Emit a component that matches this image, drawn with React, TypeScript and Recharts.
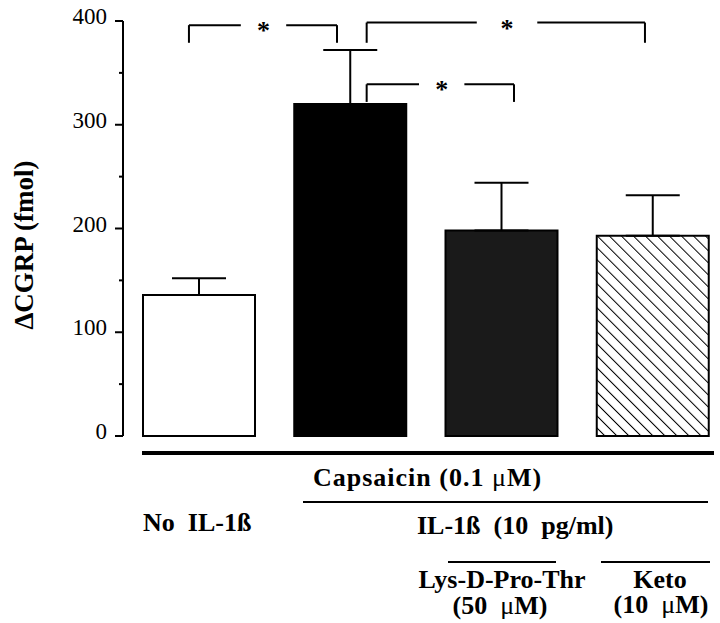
import { BarChart, Bar, Cell, XAxis, YAxis, ErrorBar, ReferenceLine, ReferenceDot } from 'recharts'

// treatment groups, left to right
const groups = ['No IL-1ß', 'IL-1ß', 'IL-1ß + Lys-D-Pro-Thr', 'IL-1ß + Keto']
const cgrp = [136, 320, 198, 193]
const sem = [16, 52, 46, 39]
const fills = ['#ffffff', '#000000', '#1a1a1a', 'url(#hatch)']
const yTicks = [0, 50, 100, 150, 200, 250, 300, 350, 400]

// significance brackets, x in group units (0..4), y in fmol
const bracketLeft = [0.436, 1.611, 1.611]
const bracketRight = [1.415, 3.451, 2.585]
const bracketTop = [396, 398.5, 339]
const bracketBottom = [379, 379, 322]
const starX = [0.929, 2.539, 2.107]
const starGap = [0.15, 0.2, 0.15]

const data = groups.map((name, i) => ({ name, pos: i + 0.5, value: cgrp[i], err: [0, sem[i]] }))

const font = '"Liberation Serif", "Times New Roman", serif'

const YTick = ({ x, y, payload }: any) => {
  const major = payload.value % 100 === 0
  return (
    <g>
      <line x1={x - (major ? 8 : 4)} x2={x} y1={y} y2={y} stroke="#000" strokeWidth={2} />
      {major && (
        <text x={x - 16} y={y + 3} textAnchor="end" fontSize={23} fontFamily={font} fill="#000">
          {payload.value}
        </text>
      )}
    </g>
  )
}

const Star = (props: any) => {
  const vb = props.viewBox
  return (
    <text x={vb.x + vb.width / 2} y={vb.y + vb.height / 2 + 14} textAnchor="middle" fontSize={26} fontWeight="bold" fontFamily={font}>
      *
    </text>
  )
}

function Brackets() {
  return bracketLeft.flatMap((l, i) => {
    const r = bracketRight[i]
    const t = bracketTop[i]
    const b = bracketBottom[i]
    const s = starX[i]
    const g = starGap[i]
    const segs = [
      [{ x: l, y: b }, { x: l, y: t }],
      [{ x: l, y: t }, { x: s - g, y: t }],
      [{ x: s + g, y: t }, { x: r, y: t }],
      [{ x: r, y: t }, { x: r, y: b }],
    ]
    return segs.map((seg, k) => (
      <ReferenceLine key={`b${i}-${k}`} xAxisId="n" segment={seg} stroke="#000" strokeWidth={2} />
    ))
  })
}

export default function App() {
  const txt = { fontFamily: font, fontWeight: 'bold' as const, fontSize: 26, fill: '#000', style: { whiteSpace: 'pre' as const } }
  const mu = { fontWeight: 'normal' as const }
  return (
    <div style={{ position: 'absolute', left: 0, top: 0, width: 720, height: 623, overflow: 'hidden', background: '#fff' }}>
      <BarChart width={740} height={623} data={data} margin={{ top: 21, right: 12, bottom: 187, left: 0 }}>
        <defs>
          <pattern id="hatch" patternUnits="userSpaceOnUse" width={8.5} height={8.5} patternTransform="rotate(-45)">
            <rect width={8.5} height={8.5} fill="#fff" />
            <line x1={0} y1={0} x2={0} y2={8.5} stroke="#000" strokeWidth={2} />
          </pattern>
        </defs>
        <XAxis dataKey="name" hide />
        <XAxis xAxisId="n" dataKey="pos" type="number" domain={[0, 4]} allowDataOverflow hide />
        <YAxis
          domain={[0, 400]}
          ticks={yTicks}
          width={123}
          tickSize={0}
          tickMargin={0}
          tickLine={false}
          tick={<YTick />}
          axisLine={{ stroke: '#000', strokeWidth: 2 }}
          interval={0}
        />
        <Bar dataKey="value" barSize={112} stroke="#000" strokeWidth={2} isAnimationActive={false}>
          {data.map((d, i) => (
            <Cell key={d.name} fill={fills[i]} />
          ))}
          <ErrorBar dataKey="err" width={27} stroke="#000" strokeWidth={2} direction="y" />
        </Bar>
        {Brackets()}
        {starX.map((s, i) => (
          <ReferenceDot key={`s${i}`} xAxisId="n" x={s} y={bracketTop[i]} r={1} fill="none" stroke="none" label={<Star />} />
        ))}
      </BarChart>
      <svg width={720} height={623} style={{ position: 'absolute', left: 0, top: 0, pointerEvents: 'none' }}>
        <text x={33} y={245} transform="rotate(-90 33 245)" textAnchor="middle" {...txt} fontSize={27}>
          ΔCGRP (fmol)
        </text>
        <line x1={142} x2={714} y1={453} y2={453} stroke="#000" strokeWidth={4} />
        <text x={313} y={486} letterSpacing={1} {...txt}>
          Capsaicin (0.1 <tspan {...mu}>μ</tspan>M)
        </text>
        <line x1={303} x2={708} y1={502} y2={502} stroke="#000" strokeWidth={2} />
        <text x={143} y={531} {...txt}>
          {'No  IL-1ß'}
        </text>
        <text x={417} y={534} {...txt}>
          {'IL-1ß  (10  pg/ml)'}
        </text>
        <line x1={448} x2={556} y1={562} y2={562} stroke="#000" strokeWidth={2} />
        <line x1={601} x2={710} y1={562} y2={562} stroke="#000" strokeWidth={2} />
        <text x={502} y={588} textAnchor="middle" {...txt}>
          Lys-D-Pro-Thr
        </text>
        <text x={500} y={614} textAnchor="middle" {...txt}>
          {'(50  '}
          <tspan {...mu}>μ</tspan>M)
        </text>
        <text x={660} y={588} textAnchor="middle" {...txt}>
          Keto
        </text>
        <text x={661} y={613} textAnchor="middle" {...txt}>
          {'(10  '}
          <tspan {...mu}>μ</tspan>M)
        </text>
      </svg>
    </div>
  )
}
